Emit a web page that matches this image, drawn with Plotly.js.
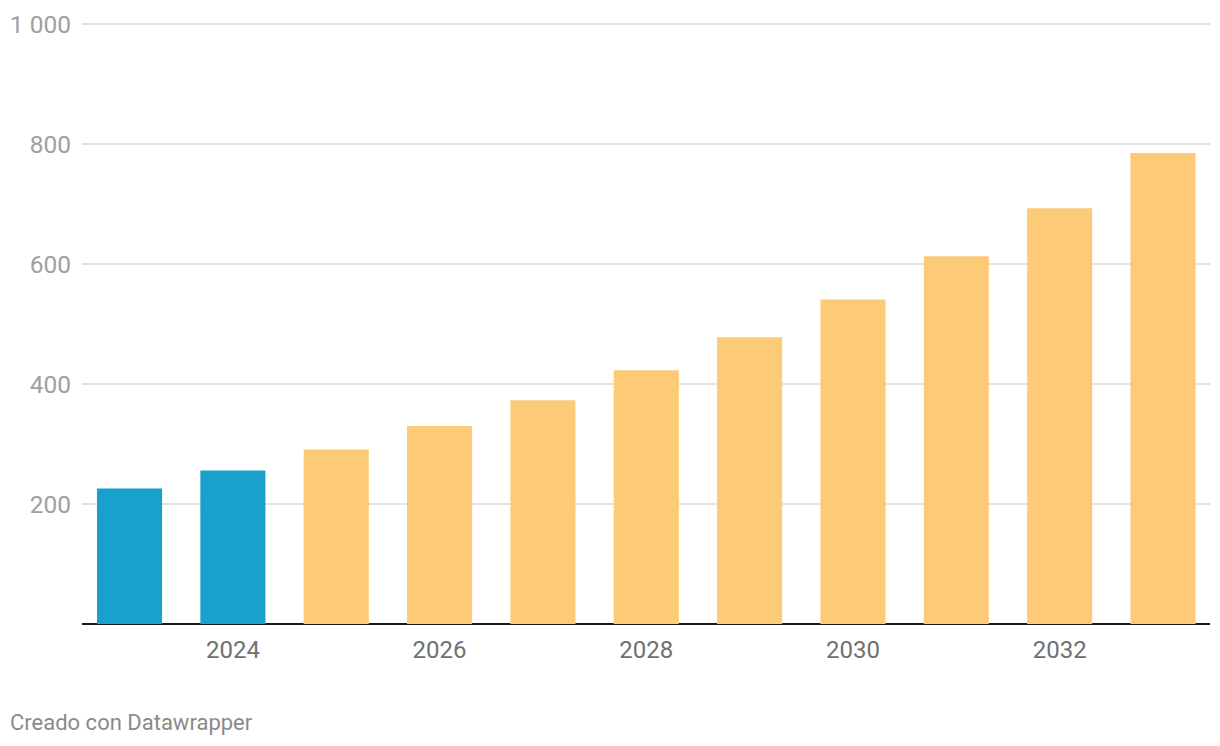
<!DOCTYPE html>
<html>
<head>
<meta charset="utf-8">
<script src="https://cdn.plot.ly/plotly-3.0.1.min.js"></script>
<style>
html,body{margin:0;padding:0;background:#fff;}
#chart{width:1220px;height:746px;}
</style>
</head>
<body>
<div id="chart"></div>
<script>
const years = [2023, 2024, 2025, 2026, 2027, 2028, 2029, 2030, 2031, 2032, 2033];
const values = [226, 256, 291, 330, 373, 423, 478, 541, 613, 693, 785];
const isForecast = [false, false, true, true, true, true, true, true, true, true, true];
const yTickVals = [200, 400, 600, 800, 1000];
const yTickText = ["200", "400", "600", "800", "1 000"];
const xTickVals = [2024, 2026, 2028, 2030, 2032];

const colors = isForecast.map(f => f ? "#fdca77" : "#18a1cd");

const trace = {
  type: "bar",
  x: years,
  y: values,
  width: 0.63,
  marker: {color: colors, line: {width: 0}},
  hoverinfo: "x+y"
};

const layout = {
  width: 1220, height: 746,
  margin: {l: 82, r: 10, t: 18, b: 122},
  paper_bgcolor: "#fff", plot_bgcolor: "#fff",
  font: {family: "Roboto, sans-serif"},
  showlegend: false,
  xaxis: {
    range: [2022.54, 2033.455],
    tickvals: xTickVals,
    ticktext: xTickVals.map(String),
    showgrid: false,
    zeroline: false,
    showline: false,
    ticks: "",
    tickfont: {size: 24, color: "#707070"},
    ticklabelstandoff: 9,
    fixedrange: true
  },
  yaxis: {
    range: [0, 1010],
    tickvals: yTickVals,
    ticktext: yTickText,
    showgrid: true,
    gridcolor: "#e3e3e3",
    gridwidth: 1.5,
    zeroline: true,
    zerolinecolor: "#1a1a1a",
    zerolinewidth: 2,
    showline: false,
    ticks: "",
    tickfont: {size: 24.5, color: "#a0a0a0"},
    ticklabelstandoff: 10,
    fixedrange: true
  },
  annotations: [{
    text: "Creado con Datawrapper",
    xref: "paper", yref: "paper",
    x: 0, y: 0,
    xshift: -74, yshift: -98,
    xanchor: "left", yanchor: "middle",
    showarrow: false,
    font: {size: 22, color: "#8a8a8a", family: "Roboto, sans-serif"}
  }]
};

Plotly.newPlot("chart", [trace], layout, {displayModeBar: false});
</script>
</body>
</html>
